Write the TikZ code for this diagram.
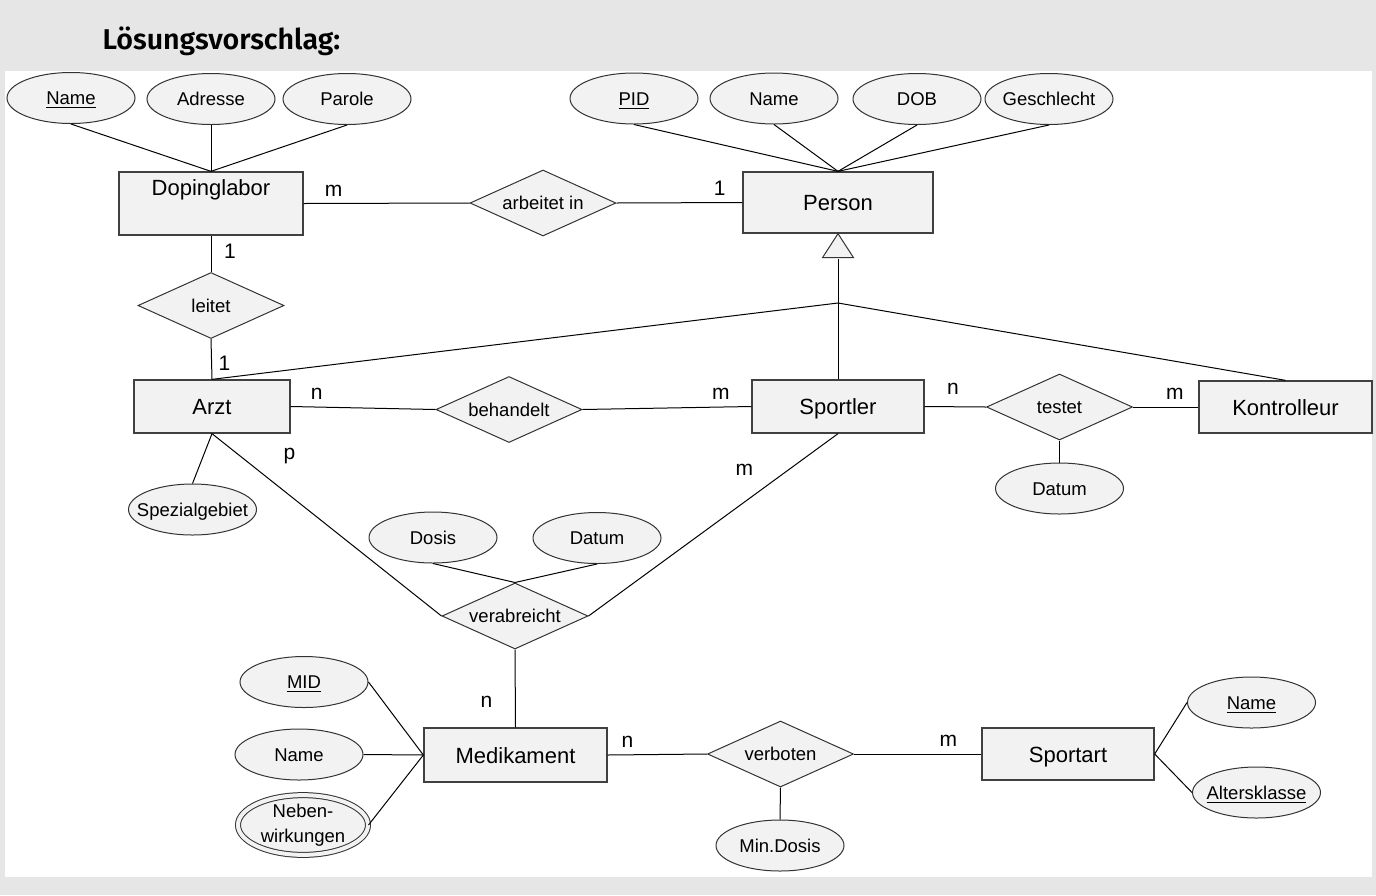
\documentclass[tikz,border=0pt]{standalone}
\usepackage{fontspec}
\setmainfont{Liberation Sans}
\newfontfamily\titlefont{Fira Sans}[BoldFont={Fira Sans SemiBold}]
\usetikzlibrary{shapes.geometric,positioning}

\definecolor{blockgray}{HTML}{E6E6E6}
\definecolor{shapegray}{HTML}{F2F2F2}
\newcommand{\key}[1]{\underline{#1}}

\begin{document}
\begin{tikzpicture}[x=0.5pt,y=-0.5pt,line width=0.5pt,
    entity/.style={rectangle,draw=black!75,line width=0.65pt,fill=shapegray,inner sep=0pt,
        font=\fontsize{11pt}{13pt}\selectfont,text height=8pt,text depth=0pt},
    relation/.style={diamond,aspect=2.2,draw=black!80,fill=shapegray,inner sep=0pt,
        minimum width=73pt,minimum height=33pt,
        font=\fontsize{9.25pt}{11pt}\selectfont,text height=6.6pt,text depth=0pt},
    attr/.style={ellipse,draw=black!80,fill=shapegray,inner sep=0pt,
        minimum width=64pt,minimum height=25.5pt,
        font=\fontsize{9.25pt}{11pt}\selectfont,text height=6.6pt,text depth=0pt,
        execute at begin node=\hbox to 0pt\bgroup\hss,
        execute at end node=\hss\egroup},
    multi/.style={ellipse,draw=black!80,fill=shapegray,double=shapegray,double distance=2pt,
        inner sep=0pt,minimum width=65pt,minimum height=28pt,align=center,
        font=\fontsize{9.25pt}{12.5pt}\selectfont},
    card/.style={font=\fontsize{10.5pt}{12pt}\selectfont,inner sep=3.3pt}]

    \useasboundingbox (0,0) rectangle (1376,895);
    \fill[blockgray] (0,0) rectangle (1376,895);
    \fill[white] (5,71) rectangle (1372,877);

    \node[anchor=base west,inner sep=0pt,font=\titlefont\bfseries\fontsize{14.3pt}{17pt}\selectfont]
        (title) at (102,49) {Lösungsvorschlag:};

    % entities
    \node[entity,minimum width=92pt,minimum height=31.5pt,text depth=16pt] (labor) at (211,203.5) {Dopinglabor};
    \node[entity,minimum width=95pt,minimum height=30.5pt] (person) at (838,202.5) {Person};
    \node[entity,minimum width=78pt,minimum height=26.5pt] (arzt) at (212,406.5) {Arzt};
    \node[entity,minimum width=86pt,minimum height=26.5pt] (sportler) at (838,406.5) {Sportler};
    \node[entity,minimum width=86.5pt,minimum height=26pt] (kontrolleur) at (1285.5,407) {Kontrolleur};
    \node[entity,minimum width=91.5pt,minimum height=27pt] (medikament) at (515.5,755) {Medikament};
    \node[entity,minimum width=86pt,minimum height=26pt] (sportart) at (1068,754) {Sportart};

    % relationships
    \node[relation] (arbeitet) at (543,203) {arbeitet in};
    \node[relation] (leitet) at (211,305.5) {leitet};
    \node[relation] (behandelt) at (509,409.5) {behandelt};
    \node[relation] (testet) at (1059.5,407) {testet};
    \node[relation] (verabreicht) at (515,616) {verabreicht};
    \node[relation] (verboten) at (780.5,754) {verboten};

    % attributes
    \node[attr] (lname) at (71,98) {\key{Name}};
    \node[attr] (ladresse) at (211,99) {Adresse};
    \node[attr] (lparole) at (347,99) {Parole};
    \node[attr] (pid) at (634,98.5) {\key{PID}};
    \node[attr] (pname) at (774,98.5) {Name};
    \node[attr] (pdob) at (917,99) {DOB};
    \node[attr] (psex) at (1049,99) {Geschlecht};
    \node[attr] (spezial) at (192.5,509.5) {Spezialgebiet};
    \node[attr] (dosis) at (433,537.5) {Dosis};
    \node[attr] (vdatum) at (597,538) {Datum};
    \node[attr] (tdatum) at (1059.5,488.5) {Datum};
    \node[attr] (mid) at (304,682) {\key{MID}};
    \node[attr] (mname) at (299,754.5) {Name};
    \node[multi] (neben) at (303,825) {Neben-\\wirkungen};
    \node[attr] (mindosis) at (780,845.5) {Min.Dosis};
    \node[attr] (sname) at (1251.5,702.5) {\key{Name}};
    \node[attr] (alters) at (1256.5,792.5) {\key{Altersklasse}};

    % is-a
    \coordinate (isa) at (838,259);
    \coordinate (hub) at (838,303);
    \draw[fill=shapegray,draw=black!80] (person.south) -- ++(-15.5,24) -- ++(31,0) -- cycle;
    \path (isa) edge (sportler.north)
          (hub) edge (arzt.north)
          (hub) edge (kontrolleur.north);

    \path[every node/.style={card}]
        (labor.east) edge node[above,pos=0.18] {m} (arbeitet.west)
        (arbeitet.east) edge node[above,pos=0.82] {1} (person.west)
        (labor.south) edge node[right,pos=0.42,xshift=3pt] {1} (leitet.north)
        (leitet.south) edge node[right,pos=0.6] {1} (arzt.north)
        (arzt.east) edge node[above,pos=0.18] {n} (behandelt.west)
        (behandelt.east) edge node[above,pos=0.82] {m} (sportler.west)
        (sportler.east) edge node[above,pos=0.46,yshift=2.5pt] {n} (testet.west)
        (testet.east) edge node[above,pos=0.64] {m} (kontrolleur.west)
        (arzt.south) edge node[pos=0.12,right=18.5pt] {p} (verabreicht.west)
        (sportler.south) edge node[pos=0.2,left=14pt] {m} (verabreicht.east)
        (verabreicht.south) edge node[pos=0.67,left=8pt] {n} (medikament.north)
        (medikament.east) edge node[above,pos=0.2] {n} (verboten.west)
        (verboten.east) edge node[above,pos=0.74] {m} (sportart.west);

    \path
        (lname.south) edge (labor.north)
        (ladresse.south) edge (labor.north)
        (lparole.south) edge (labor.north)
        (pid.south) edge (person.north)
        (pname.south) edge (person.north)
        (pdob.south) edge (person.north)
        (psex.south) edge (person.north)
        (spezial.north) edge (arzt.south)
        (dosis.south) edge (verabreicht.north)
        (vdatum.south) edge (verabreicht.north)
        (testet.south) edge (tdatum.north)
        (mid.east) edge (medikament.west)
        (mname.east) edge (medikament.west)
        (neben.east) edge (medikament.west)
        (verboten.south) edge (mindosis.north)
        (sportart.east) edge (sname.west)
        (sportart.east) edge (alters.west);
\end{tikzpicture}
\end{document}
